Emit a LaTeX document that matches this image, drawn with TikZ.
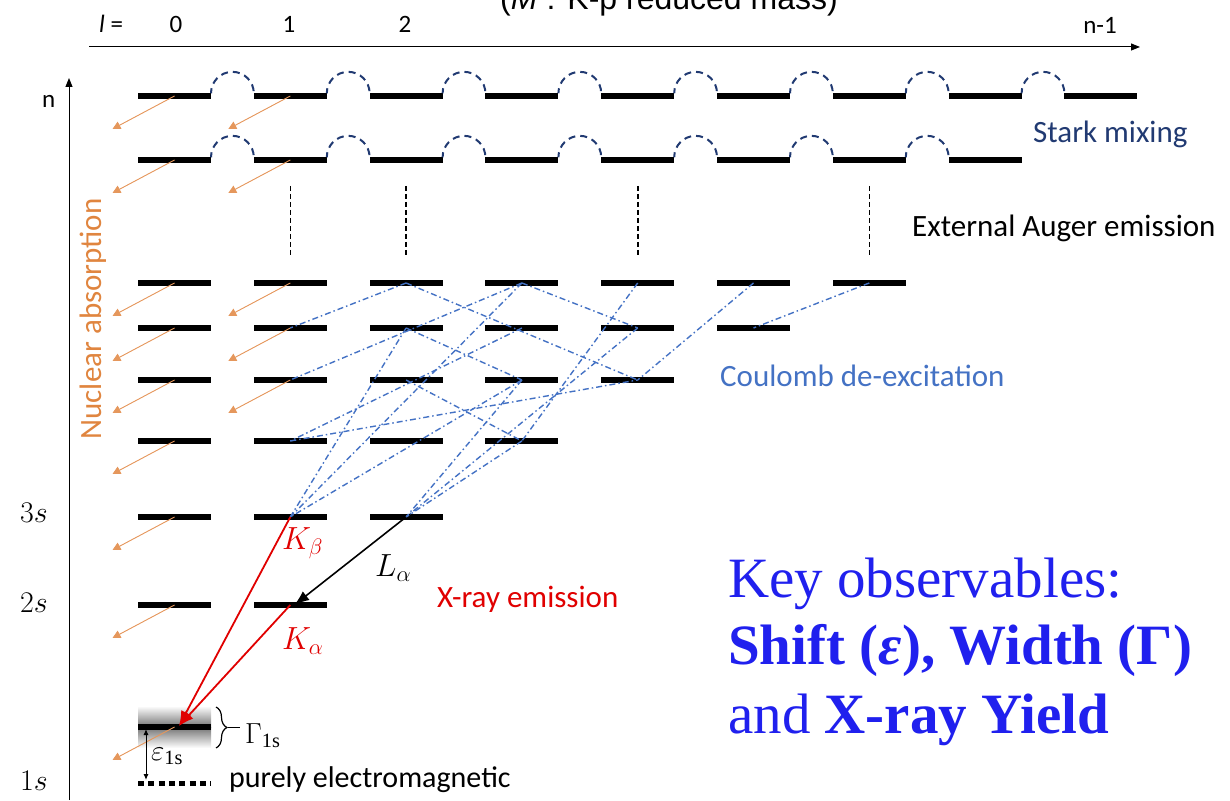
\RequirePackage{fix-cm}
\documentclass[tikz,border=0pt]{standalone}
\usepackage{fontspec}
\setmainfont{Liberation Serif}
\setsansfont{Carlito}
\newfontfamily\arialfont{Liberation Sans}
\usetikzlibrary{arrows.meta,positioning,decorations.pathreplacing}
\definecolor{starkblue}{HTML}{213A72}
\definecolor{coulblue}{HTML}{4472C4}
\definecolor{nuclorange}{HTML}{E0853F}
\definecolor{xrayred}{HTML}{E00000}
\definecolor{keyblue}{HTML}{2020EE}
\tikzset{
  lvl/.style={fill=black, minimum width=73pt, minimum height=5.5pt, inner sep=0pt, outer sep=0pt},
  starkarc/.style={draw=starkblue, line width=2pt, dash pattern=on 7pt off 5pt, dash phase=2pt},
  augerline/.style={draw=black, line width=1.6pt, dash pattern=on 5pt off 3pt},
  coulomb/.style={draw=coulblue, line width=1.4pt, dash pattern=on 6pt off 3pt on 1.5pt off 3pt},
  nuclflow/.style={-{Triangle[length=8pt,width=8pt]}, draw=nuclorange!85, fill=nuclorange!85, line width=0.9pt},
  xrayflow/.style={-{Latex[length=15pt,width=11pt]}, line width=1.8pt, draw=xrayred},
  lflow/.style={-{Latex[length=15pt,width=11pt]}, line width=1.6pt, draw=black},
  emlevel/.style={line width=5pt, dash pattern=on 6pt off 4.3pt},
  lbl/.style={font=\sffamily\fontsize{31}{36}\selectfont, inner sep=0pt, anchor=base west},
  axislbl/.style={font=\sffamily\fontsize{25}{29}\selectfont, inner sep=0pt, anchor=base},
  mathlbl/.style={font=\fontsize{32}{36}\selectfont, inner sep=0pt, anchor=base west},
  keytext/.style={font=\fontsize{57}{68}\selectfont, text=keyblue, inner sep=0pt, anchor=base west}
}

\begin{document}
\begin{tikzpicture}[x=1pt,y=1pt]
  \useasboundingbox (0,0) rectangle (1230,800);

  % broadened 1s level
  \shade[top color=white, bottom color=black!55] (138,73) rectangle (211,94);
  \shade[top color=black!55, bottom color=white] (138,52) rectangle (211,73);

  % energy levels, row / height / last l
  \foreach \r/\yy/\last in {1/704/8, 2/640/7, 3/517/6, 4/472/5, 5/420/4, 6/359/3, 7/283/2, 8/195/1, 9/73/0}
    \foreach \c in {0,...,\last}
      \node[lvl] (l\r-\c) at ({174.5+115.8*\c},\yy) {};

  % axes
  \draw[-{Triangle[length=9pt,width=7pt]}, line width=1pt] (69,0) -- (69,722);
  \draw[-{Triangle[length=9pt,width=7pt]}, line width=1pt] (89,753) -- (1140,753);
  \node[axislbl, anchor=base west] (lname) at (99,767) {\textit{l} =};
  \node[axislbl] (l0) at (176,767) {0};
  \node[axislbl] (l1) at (289,767) {1};
  \node[axislbl] (l2) at (405,767) {2};
  \node[axislbl] (lmax) at (1100,766) {n-1};
  \node[axislbl, anchor=base west] (nname) at (42,692) {n};
  \node[font=\arialfont\fontsize{32}{36}\selectfont, inner sep=0pt, anchor=base west] (mass) at (500,790) {(\textit{M}\textsuperscript{*}: K-p reduced mass)};

  % Stark mixing
  \foreach \r/\last in {1/7, 2/6}
    \foreach \c in {0,...,\last}
      \draw[starkarc] (l\r-\c.north east) arc[start angle=180, end angle=0, radius=21.4];

  % external Auger
  \foreach \c in {1,2,4,6}
    \draw[augerline, shorten <=26pt, shorten >=26pt] (l2-\c.center) -- (l3-\c.center);

  % Coulomb de-excitation
  \foreach \a/\b in {3-2/4-1, 3-2/5-4, 3-3/5-1, 3-3/4-4, 3-3/7-1, 3-4/6-3, 3-5/5-4, 3-6/4-5,
                     4-2/5-3, 4-2/7-1, 4-3/6-1, 4-4/7-2, 5-2/6-3, 5-3/7-1, 5-3/7-2, 6-3/7-2, 6-1/5-4}
    \draw[coulomb] (l\a.center) -- (l\b.center);

  % nuclear absorption
  \foreach \r in {1,...,9}
    \draw[nuclflow] (l\r-0.center) -- ++(-62,-33);
  \foreach \r in {1,...,5}
    \draw[nuclflow] (l\r-1.center) -- ++(-62,-33);

  % X-ray transitions
  \coordinate (hit) at (179,74);
  \draw[xrayflow] (l7-1.center) -- (hit);
  \draw[xrayflow] (l8-1.center) -- (hit);
  \draw[lflow] (l7-2.center) -- ([xshift=4pt]l8-1.center);
  \node[mathlbl, text=xrayred] (kbeta) at (282,250) {$K_\beta$};
  \node[mathlbl] (lalpha) at (375,223) {$L_\alpha$};
  \node[mathlbl, text=xrayred] (kalpha) at (282,150) {$K_\alpha$};

  % 1s shift and width
  \draw[emlevel] (138,17) -- (211,17);
  \coordinate (epstop) at (146,71);
  \coordinate (epsbot) at (146,20);
  \draw[{Latex[length=6pt,width=5pt]}-{Latex[length=6pt,width=5pt]}, line width=1pt] (epstop) -- (epsbot);
  \node[mathlbl, font=\fontsize{29}{33}\selectfont] (eps) at (151,40) {$\varepsilon_{\mathrm{1s}}$};
  \draw[decorate, decoration={brace, amplitude=11pt}, line width=1.2pt] (216,93) -- (216,52);
  \draw[line width=1.2pt] (228,72.5) -- (240,72.5);
  \node[mathlbl, font=\fontsize{29}{33}\selectfont] (gamma) at (245,57) {$\Gamma_{\mathrm{1s}}$};

  % level labels
  \node[mathlbl, font=\fontsize{30}{34}\selectfont] (n3) at (20,277) {$3s$};
  \node[mathlbl, font=\fontsize{30}{34}\selectfont] (n2) at (20,187) {$2s$};
  \node[mathlbl, font=\fontsize{30}{34}\selectfont] (n1) at (20,10) {$1s$};

  % process labels
  \node[lbl, text=starkblue] (stark) at (1033,657) {Stark mixing};
  \node[lbl] (auger) at (912,563) {External Auger emission};
  \node[lbl, text=coulblue] (coul) at (720,413) {Coulomb de-excitation};
  \node[lbl, text=xrayred] (xray) at (437,192) {X-ray emission};
  \node[lbl, font=\sffamily\fontsize{30}{34}\selectfont] (em) at (229,13) {purely electromagnetic};
  \node[lbl, text=nuclorange, rotate=90, anchor=base] (nucl) at (101,481) {Nuclear absorption};

  % key observables
  \node[keytext] (key1) at (728,202) {Key observables:};
  \node[keytext] (key2) at (728,135) {\textbf{Shift (\textit{ε}), Width (Γ)}};
  \node[keytext] (key3) at (728,67) {and \textbf{X-ray Yield}};
\end{tikzpicture}
\end{document}
